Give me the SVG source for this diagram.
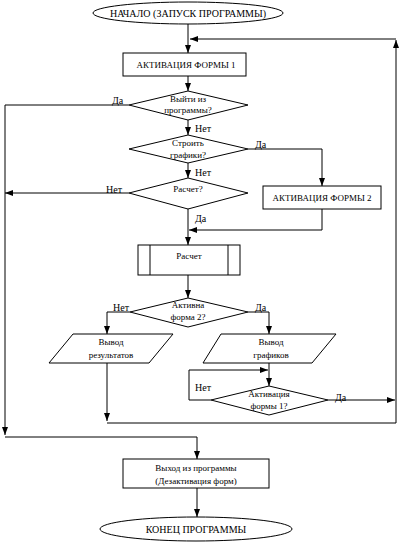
<svg xmlns="http://www.w3.org/2000/svg" width="404" height="543" viewBox="0 0 404 543">
<style>
.s{fill:#fff;stroke:#000;stroke-width:1}
.c{fill:none;stroke:#000;stroke-width:1}
.t{font-family:"Liberation Serif","Times New Roman",serif;font-size:9px;fill:#000;text-anchor:middle}
.b{font-size:10px}
.l{font-family:"Liberation Serif","Times New Roman",serif;font-size:10px;fill:#000}
</style>
<defs>
<marker id="a" viewBox="0 0 8 6" refX="8" refY="3" markerWidth="8" markerHeight="6" markerUnits="userSpaceOnUse" orient="auto">
<path d="M0,0 L8,3 L0,6 z" fill="#000"/>
</marker>
</defs>
<rect width="404" height="543" fill="#fff"/>
<g id="connectors">
<path class="c" d="M188,24 V53" marker-end="url(#a)"/>
<path class="c" d="M396,423 V40" marker-end="url(#a)"/>
<path class="c" d="M396,39 H190" marker-end="url(#a)"/>
<path class="c" d="M188,76 V91" marker-end="url(#a)"/>
<path class="c" d="M129,105 H5 V435" marker-end="url(#a)"/>
<path class="c" d="M5,437 H197 V459" marker-end="url(#a)"/>
<path class="c" d="M188,120 V135" marker-end="url(#a)"/>
<path class="c" d="M248,149 H322 V186" marker-end="url(#a)"/>
<path class="c" d="M188,163 V178" marker-end="url(#a)"/>
<path class="c" d="M129,193 H5" marker-end="url(#a)"/>
<path class="c" d="M188,208 V245" marker-end="url(#a)"/>
<path class="c" d="M322,209 V230 H189" marker-end="url(#a)"/>
<path class="c" d="M188,275 V298" marker-end="url(#a)"/>
<path class="c" d="M130,312 H107 V334" marker-end="url(#a)"/>
<path class="c" d="M248,312 H269 V334" marker-end="url(#a)"/>
<path class="c" d="M269,363 V386" marker-end="url(#a)"/>
<path class="c" d="M211,400 H189 V370 H268" marker-end="url(#a)"/>
<path class="c" d="M328,400 H395" marker-end="url(#a)"/>
<path class="c" d="M107,363 V421" marker-end="url(#a)"/>
<path class="c" d="M107,423 H396"/>
<path class="c" d="M197,488 V517" marker-end="url(#a)"/>
</g>
<g id="start">
<ellipse class="s" cx="188" cy="13" rx="95" ry="11"/>
<text class="t b" x="188" y="16.5">НАЧАЛО (ЗАПУСК ПРОГРАММЫ)</text>
</g>
<g id="form1">
<rect class="s" x="123" y="53" width="123" height="23"/>
<text class="t" x="186" y="68">АКТИВАЦИЯ ФОРМЫ 1</text>
</g>
<g id="exitq">
<polygon class="s" points="188,91 248,105 188,120 129,105"/>
<text class="t" x="188" y="102">Выйти из</text>
<text class="t" x="188" y="113">программы?</text>
<text class="l" x="112" y="104">Да</text>
<text class="l" x="195" y="132">Нет</text>
</g>
<g id="graphq">
<polygon class="s" points="188,135 248,149 188,163 129,149"/>
<text class="t" x="188" y="146">Строить</text>
<text class="t" x="188" y="158">графики?</text>
<text class="l" x="255" y="148">Да</text>
<text class="l" x="195" y="176">Нет</text>
</g>
<g id="calcq">
<polygon class="s" points="188,178 248,193 188,209 129,193"/>
<text class="t" x="188" y="192">Расчет?</text>
<text class="l" x="106" y="193">Нет</text>
<text class="l" x="195" y="222">Да</text>
</g>
<g id="form2">
<rect class="s" x="263" y="186" width="118" height="23"/>
<text class="t" x="322" y="201">АКТИВАЦИЯ ФОРМЫ 2</text>
</g>
<g id="calc">
<rect class="s" x="138" y="245" width="102" height="30"/>
<line class="c" x1="150" y1="245" x2="150" y2="275"/>
<line class="c" x1="228" y1="245" x2="228" y2="275"/>
<text class="t" x="189" y="259">Расчет</text>
</g>
<g id="form2q">
<polygon class="s" points="188,298 248,312 188,327 130,312"/>
<text class="t" x="188" y="308">Активна</text>
<text class="t" x="188" y="320">форма 2?</text>
<text class="l" x="113" y="311">Нет</text>
<text class="l" x="255" y="311">Да</text>
</g>
<g id="outres">
<polygon class="s" points="73,334 173,334 149,363 49,363"/>
<text class="t" x="111" y="345">Вывод</text>
<text class="t" x="111" y="358">результатов</text>
</g>
<g id="outgr">
<polygon class="s" points="221,334 336,334 312,363 203,363"/>
<text class="t" x="271" y="345">Вывод</text>
<text class="t" x="271" y="358">графиков</text>
</g>
<g id="form1q">
<polygon class="s" points="269,386 328,400 269,415 211,400"/>
<text class="t" x="269" y="397">Активация</text>
<text class="t" x="269" y="409">формы 1?</text>
<text class="l" x="195" y="391">Нет</text>
<text class="l" x="335" y="401">Да</text>
</g>
<g id="exit">
<rect class="s" x="123" y="459" width="146" height="29"/>
<text class="t" x="196" y="471">Выход из программы</text>
<text class="t" x="196" y="484">(Дезактивация форм)</text>
</g>
<g id="end">
<ellipse class="s" cx="196" cy="529" rx="96" ry="12"/>
<text class="t b" x="196" y="532.5">КОНЕЦ ПРОГРАММЫ</text>
</g>
</svg>
